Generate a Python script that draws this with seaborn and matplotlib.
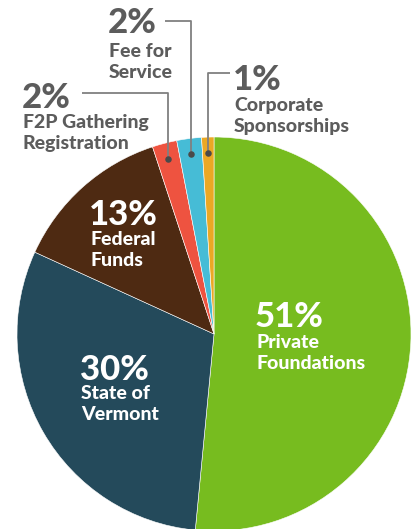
import matplotlib
matplotlib.use("Agg")
import matplotlib.pyplot as plt
import seaborn as sns
import numpy as np

sns.set_theme(style="white")
plt.rcParams['font.family'] = ['Lato', 'DejaVu Sans']

categories = ["Private Foundations", "State of Vermont", "Federal Funds",
              "F2P Gathering Registration", "Fee for Service", "Corporate Sponsorships"]
values = [51, 30, 13, 2, 2, 1]
pct_labels = ["51%", "30%", "13%", "2%", "2%", "1%"]
name_labels = [["Private", "Foundations"], ["State of", "Vermont"], ["Federal", "Funds"],
               ["F2P Gathering", "Registration"], ["Fee for", "Service"],
               ["Corporate", "Sponsorships"]]
colors = ["#77BC1F", "#244A5B", "#4E2A12", "#EE5340", "#46BCD6", "#EBA824"]

W, H = 413, 529
fig = plt.figure(figsize=(W / 100, H / 100), dpi=100)
ax = fig.add_axes([0, 0, 1, 1])

cx, cy, R = 214, H - 334, 197
wedges, _ = ax.pie(values, colors=colors, startangle=90, counterclock=False,
                   center=(cx, cy), radius=R, frame=True,
                   wedgeprops=dict(edgecolor="white", linewidth=0.4))
ax.set_xlim(0, W)
ax.set_ylim(0, H)
ax.set_aspect("equal")
ax.axis("off")

def py(y):
    return H - y

white = "white"
grey = "#5C5C5C"
big, small = 25, 14
gap = 21

def draw_label(i, x, pb, nb, color):
    ax.text(x, py(pb), pct_labels[i], color=color, fontsize=big, fontweight="black",
            va="baseline", ha="left")
    for k, line in enumerate(name_labels[i]):
        ax.text(x + 1, py(nb + k * gap), line, color=color, fontsize=small,
                fontweight="black", va="baseline", ha="left")

# inside labels (x, baseline of pct, baseline of first name line)
inside = {0: (255, 327, 348), 1: (80, 380, 399), 2: (89, 225, 245)}
for i, (x, pb, nb) in inside.items():
    draw_label(i, x, pb, nb, white)

# outside labels with leader lines
outside = {
    3: dict(tx=22, pb=108, nb=128, ly=93, lx_end=82),
    4: dict(tx=108, pb=33, nb=57, ly=21, lx_end=165),
    5: dict(tx=233, pb=90, nb=111, ly=73, lx_end=230),
}
total = sum(values)
cum = np.cumsum([0] + values)
for i, o in outside.items():
    mid = (cum[i] + cum[i + 1]) / 2 / total * 360
    ang = np.deg2rad(90 - mid)
    r = 0.92 * R
    dx, dy = cx + r * np.cos(ang), cy + r * np.sin(ang)
    ax.plot([dx, dx, o["lx_end"]], [dy, py(o["ly"]), py(o["ly"])],
            color="#808080", lw=1.3, solid_capstyle="butt", zorder=5)
    ax.scatter([dx], [dy], s=22, color="#4A4A4A", zorder=6, linewidths=0)
    draw_label(i, o["tx"], o["pb"], o["nb"], grey)

fig.savefig("out.png", dpi=100, facecolor="white")
